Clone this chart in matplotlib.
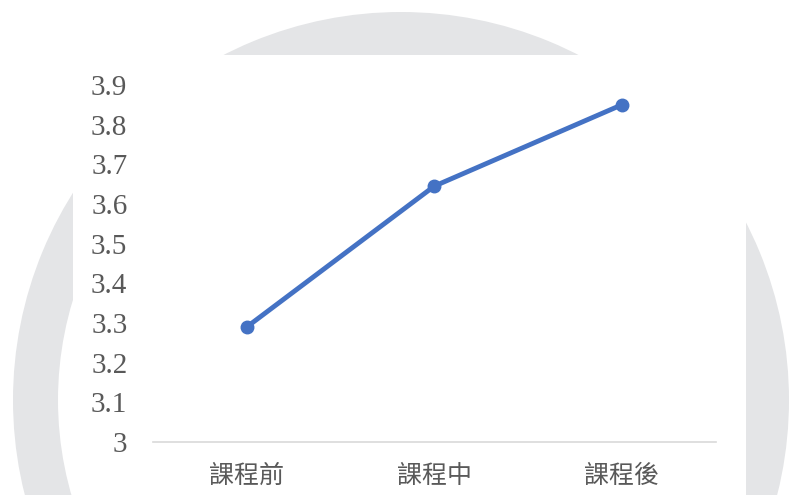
from matplotlib import pyplot as plt
from matplotlib.patches import Wedge, Rectangle

stages = ['課程前', '課程中', '課程後']
scores = [3.29, 3.645, 3.85]
yticks = [3.0, 3.1, 3.2, 3.3, 3.4, 3.5, 3.6, 3.7, 3.8, 3.9]
ylabels = ['3', '3.1', '3.2', '3.3', '3.4', '3.5', '3.6', '3.7', '3.8', '3.9']

fig = plt.figure(figsize=(7.95, 4.95), dpi=100)

# background: grey ring with white chart card on top
bg = fig.add_axes([0, 0, 1, 1])
bg.set_xlim(0, 795)
bg.set_ylim(495, 0)
bg.axis('off')
bg.add_patch(Wedge((401, 400), 388, 0, 360, width=45, color='#e4e5e7', lw=0))
bg.add_patch(Rectangle((73, 55), 673, 460, color='white', lw=0))

ax = fig.add_axes([0.1925, 0.1071, 0.7075, 0.7212])
ax.patch.set_alpha(0)
x = list(range(len(stages)))
ax.plot(x, scores, color='#4472c4', lw=3.5, marker='o', ms=9,
        solid_capstyle='round', clip_on=False)

ax.set_xlim(-0.5, 2.5)
ax.set_ylim(3.0, 3.9)
ax.set_yticks(yticks)
ax.set_yticklabels(ylabels, family='Liberation Serif', fontsize=21, color='#595959')
ax.set_xticks(x)
ax.set_xticklabels(stages, family=['Noto Sans CJK TC', 'DejaVu Sans'],
                   fontsize=18, color='#595959')
ax.tick_params(axis='y', length=0, pad=18.5)
ax.tick_params(axis='x', length=0, pad=15)
for s in ['top', 'right', 'left']:
    ax.spines[s].set_visible(False)
ax.spines['bottom'].set_color('#d9d9d9')
ax.spines['bottom'].set_linewidth(1.2)

plt.savefig('out.png', dpi=100)
